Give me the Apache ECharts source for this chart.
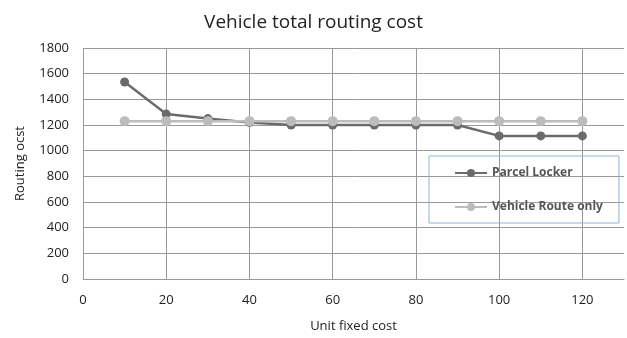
<!DOCTYPE html>
<html>
<head>
<meta charset="utf-8">
<script src="https://cdn.jsdelivr.net/npm/echarts@6/dist/echarts.min.js"></script>
<style>
  html, body { margin: 0; padding: 0; background: #ffffff; }
  #chart { width: 627px; height: 338px; }
</style>
</head>
<body>
<div id="chart"></div>
<script>
// Unit fixed cost values along the x axis
const unitFixedCost = [10, 20, 30, 40, 50, 60, 70, 80, 90, 100, 110, 120];
// Total routing cost for each scenario
const parcelLocker = [1535, 1285, 1250, 1220, 1200, 1200, 1200, 1200, 1200, 1115, 1115, 1115];
const vehicleRouteOnly = [1230, 1230, 1230, 1230, 1230, 1230, 1230, 1230, 1230, 1230, 1230, 1230];
const seriesNames = ['Parcel Locker', 'Vehicle Route only'];

const font = '"Open Sans", "Noto Sans", sans-serif';
const pair = (xs, ys) => xs.map((x, i) => [x, ys[i]]);

const chart = echarts.init(document.getElementById('chart'), null, { renderer: 'canvas' });
chart.setOption({
  backgroundColor: '#ffffff',
  animation: false,
  title: {
    text: 'Vehicle total routing cost',
    left: 'center',
    top: 8,
    textStyle: { fontFamily: font, fontSize: 19, fontWeight: 'normal', color: '#222' }
  },
  legend: {
    orient: 'vertical',
    left: 429,
    top: 156,
    padding: [11, 16, 10, 25],
    itemGap: 22,
    itemWidth: 32,
    itemHeight: 10,
    borderColor: '#8fb3de',
    borderWidth: 1,
    textStyle: { fontFamily: font, fontSize: 12, fontWeight: 'bold', color: '#555' },
    data: seriesNames
  },
  grid: { left: 83, right: 3, top: 48, bottom: 56 },
  xAxis: {
    type: 'value',
    min: 0,
    max: 130,
    interval: 20,
    name: 'Unit fixed cost',
    nameLocation: 'middle',
    nameGap: 41,
    nameTextStyle: { fontFamily: font, fontSize: 13, color: '#222' },
    axisLine: { show: true, lineStyle: { color: '#999', width: 1 } },
    axisTick: { show: false },
    axisLabel: { showMaxLabel: false, margin: 15, fontFamily: font, fontSize: 13, color: '#222' },
    splitLine: { show: true, showMaxLine: false, lineStyle: { color: '#999', width: 1 } }
  },
  yAxis: {
    type: 'value',
    min: 0,
    max: 1800,
    interval: 200,
    name: 'Routing ocst',
    nameLocation: 'middle',
    nameGap: 56,
    nameTextStyle: { fontFamily: font, fontSize: 13, color: '#222' },
    axisLine: { show: false },
    axisTick: { show: false },
    axisLabel: { margin: 14, fontFamily: font, fontSize: 13, color: '#222', formatter: v => String(v) },
    splitLine: { show: true, lineStyle: { color: '#999', width: 1 } }
  },
  series: [
    {
      name: seriesNames[0],
      type: 'line',
      data: pair(unitFixedCost, parcelLocker),
      symbol: 'circle',
      symbolSize: 9,
      lineStyle: { color: '#6b6b6b', width: 2.5 },
      itemStyle: { color: '#6b6b6b' },
      z: 3
    },
    {
      name: seriesNames[1],
      type: 'line',
      data: pair(unitFixedCost, vehicleRouteOnly),
      symbol: 'circle',
      symbolSize: 10,
      lineStyle: { color: '#bcbcbc', width: 2.5 },
      itemStyle: { color: '#bcbcbc' },
      z: 4
    }
  ]
});
</script>
</body>
</html>
